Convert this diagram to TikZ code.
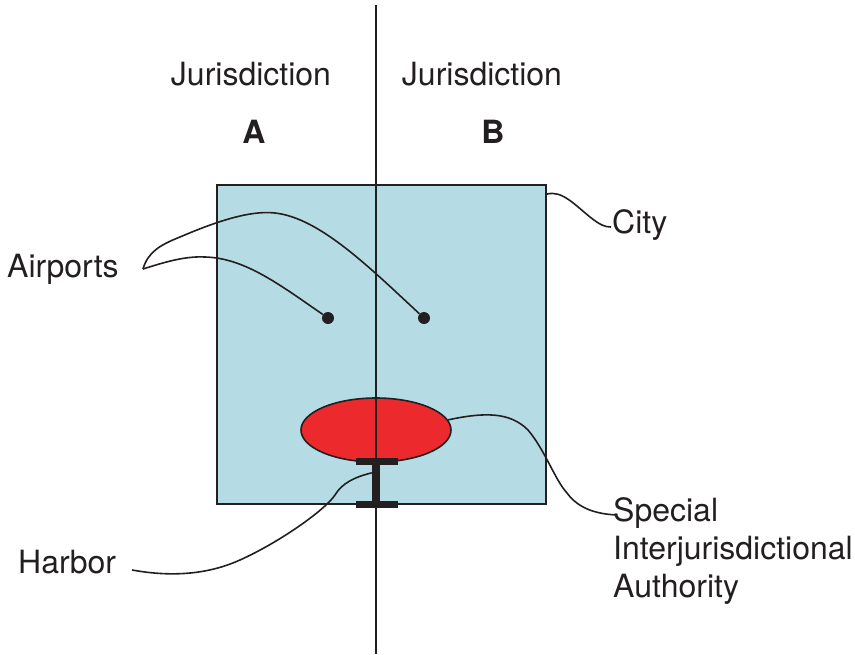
\documentclass[tikz,border=0pt]{standalone}
\usepackage{fontspec}
\setmainfont{TeX Gyre Heros}
\usetikzlibrary{shapes.geometric,calc}
\definecolor{cityblue}{HTML}{B5DCE5}
\definecolor{sired}{HTML}{EC2A2E}
\definecolor{ink}{HTML}{231F20}
\begin{document}
\begin{tikzpicture}[x=1pt,y=-1pt,
  lbl/.style={inner sep=0pt, text=ink, font=\fontsize{32}{38}\selectfont},
  conn/.style={draw=ink, line width=1.6pt},
  bar/.style={fill=ink, inner sep=0pt}]
\useasboundingbox (0,0) rectangle (855,654);
% city
\node[draw=ink, fill=cityblue, line width=1.8pt, minimum width=329pt, minimum height=319pt, inner sep=0pt] (city) at (381.5,344.5) {};
% special authority
\node[ellipse, draw=ink, fill=sired, line width=1.6pt, minimum width=150pt, minimum height=64pt, inner sep=0pt] (sia) at (376,430) {};
% boundary
\coordinate (btop) at (376,5);
\coordinate (bbot) at (376,654);
\draw[ink, line width=1.6pt] (btop) -- (bbot);
% harbor I-beam
\node[bar, minimum width=42pt, minimum height=7pt] (htop) at (377,461.5) {};
\node[bar, minimum width=8pt, minimum height=36pt] (hstem) at (376,483) {};
\node[bar, minimum width=42pt, minimum height=7pt] (hbot) at (377,504.5) {};
% airports
\node[circle, fill=ink, minimum size=12pt, inner sep=0pt] (ap1) at (328,318) {};
\node[circle, fill=ink, minimum size=12pt, inner sep=0pt] (ap2) at (424,318) {};
% labels
\node[lbl, anchor=base] (jA) at (251,85) {Jurisdiction};
\node[lbl, anchor=base] (jB) at (482,85) {Jurisdiction};
\node[lbl, anchor=base, font=\fontsize{32}{38}\selectfont\bfseries] (A) at (254,143) {A};
\node[lbl, anchor=base, font=\fontsize{32}{38}\selectfont\bfseries] (B) at (493,143) {B};
\node[lbl, anchor=base west] (airports) at (7,277) {Airports};
\node[lbl, anchor=base west] (citylbl) at (612,233) {City};
\node[lbl, anchor=base west] (harbor) at (18,573) {Harbor};
\node[lbl, anchor=base west, align=left] (sialbl) at (613,597) {Special\\Interjurisdictional\\Authority};
% connector ends
\coordinate (aptip) at (143,269);
\coordinate (cityend) at (611,227);
\coordinate (siaend) at (617,515);
\coordinate (hstart) at (132,570);
% airport leaders
\draw[conn] (aptip) .. controls (165,262) and (185,256) .. (205,257)
  .. controls (245,258) and (280,285) .. (ap1);
\draw[conn] (aptip) .. controls (148,252) and (160,245) .. (180,237)
  .. controls (215,222) and (250,210) .. (275,213)
  .. controls (320,218) and (370,268) .. (ap2);
% city leader
\draw[conn] ($(city.north east)+(0,10)$) .. controls (562,190) and (575,205) .. (590,217)
  .. controls (600,225) and (605,227) .. (cityend);
% special authority leader
\draw[conn] (sia.8) .. controls (485,412) and (510,412) .. (528,430)
  .. controls (545,450) and (555,480) .. (567,493)
  .. controls (578,508) and (595,514) .. (siaend);
% harbor leader
\draw[conn] (hstart) .. controls (160,575) and (200,578) .. (240,560)
  .. controls (280,542) and (325,510) .. (335,495)
  .. controls (342,483) and (355,477) .. ($(hstem.north west)+(0,8)$);
\end{tikzpicture}
\end{document}
